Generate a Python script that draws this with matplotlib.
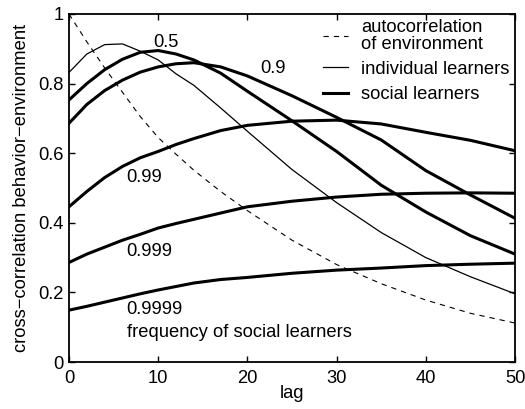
import matplotlib
matplotlib.use('Agg')
import matplotlib.pyplot as plt
import numpy as np

plt.rcParams['font.family'] = ['Liberation Sans', 'DejaVu Sans']
plt.rcParams['font.size'] = 13.2
plt.rcParams['lines.scale_dashes'] = False

# values
lag = [0, 2, 4, 6, 8, 10, 12, 14, 17, 20, 25, 30, 35, 40, 45, 50]
autocorr = [1.0, 0.92, 0.845, 0.775, 0.705, 0.645, 0.597, 0.551, 0.490, 0.435,
            0.35, 0.28, 0.225, 0.178, 0.14, 0.112]
individual = [0.832, 0.885, 0.912, 0.914, 0.893, 0.868, 0.828, 0.795, 0.73, 0.663,
              0.553, 0.458, 0.372, 0.300, 0.245, 0.196]
social = {
    '0.5':    [0.753, 0.80, 0.84, 0.870, 0.89, 0.895, 0.885, 0.868, 0.83, 0.778,
               0.693, 0.605, 0.508, 0.431, 0.363, 0.31],
    '0.9':    [0.686, 0.74, 0.78, 0.81, 0.833, 0.848, 0.857, 0.860, 0.848, 0.822,
               0.765, 0.703, 0.638, 0.55, 0.48, 0.413],
    '0.99':   [0.446, 0.49, 0.53, 0.562, 0.587, 0.605, 0.625, 0.642, 0.665, 0.68,
               0.692, 0.695, 0.684, 0.66, 0.637, 0.607],
    '0.999':  [0.286, 0.31, 0.33, 0.35, 0.367, 0.385, 0.398, 0.41, 0.428, 0.446,
               0.462, 0.474, 0.482, 0.485, 0.486, 0.485],
    '0.9999': [0.149, 0.16, 0.172, 0.184, 0.196, 0.207, 0.217, 0.227, 0.237, 0.243,
               0.255, 0.264, 0.27, 0.277, 0.281, 0.284],
}
# label text, x (lag), y (baseline)
freq_labels = [('0.5', 9.4, 0.906), ('0.9', 21.4, 0.830), ('0.99', 6.46, 0.518),
               ('0.999', 6.46, 0.305), ('0.9999', 6.46, 0.137),
               ('frequency of social learners', 6.46, 0.073)]

fig = plt.figure(figsize=(5.25, 4.09), dpi=100)
ax = fig.add_axes([0.1314, 0.1149, 0.8496, 0.8509])

ax.plot(lag, autocorr, color='k', lw=0.8, dashes=(3.8, 3.6),
        label='autocorrelation\nof environment')
ax.plot(lag, individual, color='k', lw=0.9, label='individual learners')
first = True
for name, vals in social.items():
    ax.plot(lag, vals, color='k', lw=2.2,
            label='social learners' if first else '_nolegend_')
    first = False

for txt, x, y in freq_labels:
    ax.text(x, y, txt, ha='left', va='baseline')

ax.set_xlim(0, 50)
ax.set_ylim(0, 1)
ax.set_xticks([0, 10, 20, 30, 40, 50])
ax.set_yticks([0, 0.2, 0.4, 0.6, 0.8, 1])
ax.set_yticklabels(['0', '0.2', '0.4', '0.6', '0.8', '1'])
ax.tick_params(direction='in', length=4, width=1, top=True, right=True)
ax.tick_params(axis='x', pad=6)
ax.tick_params(axis='y', pad=4)
for s in ax.spines.values():
    s.set_linewidth(1.3)

ax.set_xlabel('lag', labelpad=-2)
ax.set_ylabel('cross\u2212correlation behavior\u2212environment', labelpad=6)

leg = ax.legend(loc='upper left', bbox_to_anchor=(0.5695, 0.985), frameon=False,
                borderpad=0, borderaxespad=0, handlelength=1.37, handletextpad=0.7,
                labelspacing=0.45)
for t in leg.get_texts():
    t.set_linespacing(0.95)

fig.savefig('out.png', dpi=100)
